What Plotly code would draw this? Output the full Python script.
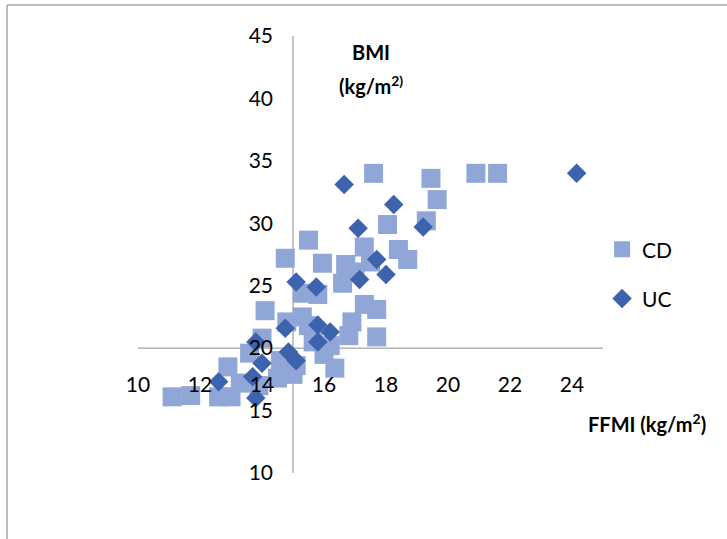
import plotly.graph_objects as go

# Fat-free mass index vs body mass index, by disease group
cd_ffmi = [17.6, 19.45, 19.65, 19.3, 20.9, 21.6, 18.05, 15.5, 14.75, 15.95,
           17.3, 18.4, 18.7, 16.7, 17.0, 17.5, 16.6, 15.3, 15.8, 14.1,
           17.3, 17.7, 16.9, 17.7, 14.8, 15.3, 14.0, 13.6, 12.9, 11.1,
           11.7, 12.6, 13.0, 14.5, 15.1, 16.35, 15.65, 16.0, 14.6, 15.5,
           16.2, 13.3, 13.9, 16.8, 15.0]
cd_bmi = [34.0, 33.6, 31.9, 30.2, 34.0, 34.0, 29.9, 28.65, 27.2, 26.8,
          28.1, 27.9, 27.1, 26.7, 26.1, 26.9, 25.2, 24.4, 24.3, 23.0,
          23.5, 23.1, 22.1, 20.9, 22.1, 22.5, 20.8, 19.6, 18.5, 16.1,
          16.2, 16.1, 16.1, 17.6, 18.6, 18.4, 20.5, 19.5, 19.0, 21.8,
          20.2, 17.2, 17.0, 21.0, 17.9]

uc_ffmi = [24.15, 16.65, 18.25, 17.1, 19.2, 17.7, 18.0, 17.15, 15.1, 15.75,
           14.75, 15.8, 16.2, 15.8, 14.85, 15.1, 13.8, 14.0, 13.7, 12.6,
           13.8]
uc_bmi = [34.0, 33.1, 31.5, 29.6, 29.7, 27.1, 25.9, 25.5, 25.3, 24.9,
          21.6, 21.85, 21.3, 20.5, 19.7, 19.0, 20.5, 18.8, 17.7, 17.3,
          16.0]

x_ticks = [10, 12, 14, 16, 18, 20, 22, 24]
y_ticks = [10, 15, 20, 25, 30, 35, 40, 45]

X_RANGE = [10, 25]
Y_RANGE = [10, 45]
X_CROSS = 15   # value where the vertical axis crosses
Y_CROSS = 20   # value where the horizontal axis crosses

FONT = "Lato"
AXIS_GREY = "#8c8c8c"

fig = go.Figure()
fig.add_trace(go.Scatter(
    x=cd_ffmi, y=cd_bmi, mode="markers", name="CD", legendgroup="cd",
    marker=dict(symbol="square", size=19, color="#8fa6d6",
                line=dict(width=0))))
fig.add_trace(go.Scatter(
    x=uc_ffmi, y=uc_bmi, mode="markers", name="UC", legendgroup="uc",
    marker=dict(symbol="diamond", size=15, color="#3d63ae",
                line=dict(width=0))))

# axis lines crossing inside the plot
fig.add_shape(type="line", xref="x", yref="y", x0=X_RANGE[0], x1=X_RANGE[1],
              y0=Y_CROSS, y1=Y_CROSS, line=dict(color=AXIS_GREY, width=1),
              layer="below")
fig.add_shape(type="line", xref="x", yref="y", x0=X_CROSS, x1=X_CROSS,
              y0=Y_RANGE[0], y1=Y_RANGE[1], line=dict(color=AXIS_GREY, width=1),
              layer="below")

# outer frame of the chart
fig.add_shape(type="line", xref="paper", yref="paper", x0=-0.2817, x1=1.27,
              y0=1.0709, y1=1.0709, line=dict(color="#a6a6a6", width=1.5))
fig.add_shape(type="line", xref="paper", yref="paper", x0=-0.2817, x1=-0.2817,
              y0=1.0709, y1=-0.16, line=dict(color="#a6a6a6", width=1.5))

fig.add_annotation(xref="paper", yref="paper", x=0.502, y=0.963, yanchor="middle",
                   text="<b>BMI</b>", showarrow=False,
                   font=dict(family=FONT, size=20, color="#000"))
fig.add_annotation(xref="paper", yref="paper", x=0.502, y=0.888, yanchor="middle",
                   text="<b>(kg/m<sup>2)</sup></b>", showarrow=False,
                   font=dict(family=FONT, size=20, color="#000"))
fig.add_annotation(xref="paper", yref="paper", x=1.225, y=0.115, yanchor="middle",
                   text="<b>FFMI (kg/m<sup>2</sup>)</b>", showarrow=False,
                   font=dict(family=FONT, size=20, color="#000"))

fig.update_layout(
    width=727, height=539,
    margin=dict(l=138, r=124, t=36, b=66),
    paper_bgcolor="white", plot_bgcolor="white",
    font=dict(family=FONT, size=21, color="#000"),
    showlegend=True,
    legend=dict(x=0.998, y=0.455, xanchor="left", yanchor="middle",
                tracegroupgap=19, font=dict(size=21),
                bgcolor="rgba(0,0,0,0)"),
    xaxis=dict(range=X_RANGE, showgrid=False, zeroline=False, showline=False,
               tickvals=x_ticks, ticks="", anchor="free",
               position=(Y_CROSS - Y_RANGE[0]) / (Y_RANGE[1] - Y_RANGE[0]),
               ticklabelstandoff=22, fixedrange=True),
    yaxis=dict(range=Y_RANGE, showgrid=False, zeroline=False, showline=False,
               tickvals=y_ticks, ticks="", anchor="free",
               position=(X_CROSS - X_RANGE[0]) / (X_RANGE[1] - X_RANGE[0]),
               ticklabelstandoff=20, fixedrange=True),
)

fig.write_html("out.html")
